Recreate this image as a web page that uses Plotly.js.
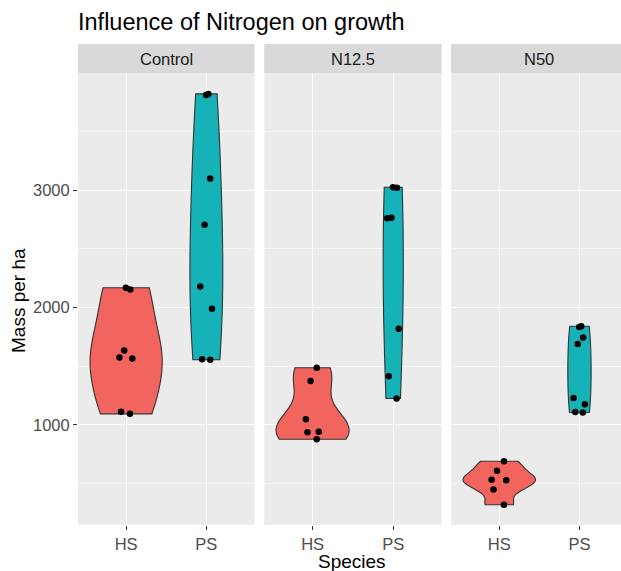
<!DOCTYPE html>
<html>
<head>
<meta charset="utf-8">
<script src="https://cdn.plot.ly/plotly-3.0.1.min.js"></script>
<style>
html,body{margin:0;padding:0;background:#fff;}
#chart{width:621px;height:571px;}
</style>
</head>
<body>
<div id="chart"></div>
<script>
// ---- data ----
var facets = ["Control", "N12.5", "N50"];
var species = ["HS", "PS"];

var controlHS = [2168, 2153, 1634, 1575, 1565, 1111, 1094];
var controlPS = [3820, 3810, 3100, 2705, 2180, 1990, 1560, 1555];
var n125HS = [1487, 1373, 1048, 942, 938, 878];
var n125PS = [3025, 3020, 2765, 2760, 1820, 1415, 1225];
var n50HS = [690, 610, 532, 528, 450, 320];
var n50PS = [1840, 1835, 1745, 1690, 1230, 1175, 1110, 1105];

var yTicks = [1000, 2000, 3000];

// ---- styling ----
var fillColors = {HS: "#F2645E", PS: "#15B2B8"};
var violinWidths = [[0.9, 0.41], [0.9, 0.25], [0.9, 0.29]];
var bwAdjust = [[1.15, 1.5], [1.0, 2.3], [1.0, 1.7]];
var jitters = [[0.22, 0.45], [0.22, 0.7], [0.25, 0.6]];

function bwNrd0(a) {
  var n = a.length;
  var s = a.slice().sort(function (p, q) { return p - q; });
  var mean = s.reduce(function (t, v) { return t + v; }, 0) / n;
  var sd = Math.sqrt(s.reduce(function (t, v) { return t + (v - mean) * (v - mean); }, 0) / (n - 1));
  function q(p) {
    var h = (n - 1) * p, lo = Math.floor(h), hi = Math.ceil(h);
    return s[lo] + (h - lo) * (s[hi] - s[lo]);
  }
  var iqr = q(0.75) - q(0.25);
  var lo = Math.min(sd, iqr / 1.34);
  if (!(lo > 0)) lo = sd || 1;
  return 0.9 * lo * Math.pow(n, -0.2);
}

var groups = [[controlHS, controlPS], [n125HS, n125PS], [n50HS, n50PS]];
var axisIds = ["x", "x2", "x3"];

var traces = [];
groups.forEach(function (g, fi) {
  g.forEach(function (vals, si) {
    var sp = species[si];
    traces.push({
      type: "violin",
      x: vals.map(function () { return sp; }),
      y: vals,
      xaxis: axisIds[fi],
      yaxis: "y",
      name: facets[fi] + " " + sp,
      showlegend: false,
      fillcolor: fillColors[sp],
      line: {color: "#333333", width: 1.1},
      opacity: 1,
      spanmode: "hard",
      scalemode: "width",
      width: violinWidths[fi][si],
      bandwidth: bwNrd0(vals) * bwAdjust[fi][si],
      points: "all",
      pointpos: 0,
      jitter: jitters[fi][si],
      marker: {color: "#000000", size: 6.5, line: {width: 0}},
      box: {visible: false},
      meanline: {visible: false},
      hoveron: "violins+points"
    });
  });
});

var W = 621, H = 571, L = 78, R = 0, T = 73, B = 46;
var pw = W - L - R, ph = H - T - B;
function px2fx(px) { return (px - L) / pw; }
function py2fy(py) { return (H - B - py) / ph; }

var domains = [
  [0, px2fx(254.5)],
  [px2fx(264.2), px2fx(441.6)],
  [px2fx(451.1), 1]
];
// third panel is cropped on the right in the reference
var pxPerUnit = (254.5 - L) / 2.2;
var x3Max = -0.6 + (W - 451.1) / pxPerUnit;
var ranges = [[-0.6, 1.6], [-0.6, 1.6], [-0.6, x3Max]];

var FONT = "Liberation Sans, Arial, sans-serif";
var tickFont = {family: FONT, size: 16.5, color: "#4D4D4D"};

var layout = {
  width: W, height: H,
  margin: {l: L, r: R, t: T, b: B, pad: 0},
  paper_bgcolor: "#FFFFFF",
  plot_bgcolor: "#EBEBEB",
  violinmode: "overlay",
  showlegend: false,
  font: {family: FONT, color: "#000"},
  title: {
    text: "Influence of Nitrogen on growth",
    font: {family: FONT, size: 23.5, color: "#000"},
    xref: "paper", x: 0, xanchor: "left",
    yref: "container", y: 1 - 22 / H, yanchor: "middle"
  },
  yaxis: {
    range: [147, 3998],
    tickvals: yTicks,
    ticktext: yTicks.map(String),
    showgrid: true, gridcolor: "#FFFFFF", gridwidth: 1.2,
    zeroline: false, showline: false,
    ticks: "outside", ticklen: 4, tickwidth: 1, tickcolor: "#333333",
    tickfont: tickFont,
    minor: {dtick: 500, tick0: 0, showgrid: true, gridcolor: "#FFFFFF", gridwidth: 0.6, ticks: ""},
    anchor: "x"
  },
  shapes: [],
  annotations: []
};

axisIds.forEach(function (id, i) {
  var key = i === 0 ? "xaxis" : "xaxis" + (i + 1);
  layout[key] = {
    domain: domains[i],
    anchor: "y",
    type: "category",
    categoryorder: "array",
    categoryarray: species,
    range: ranges[i],
    showgrid: true, gridcolor: "#FFFFFF", gridwidth: 1.2,
    zeroline: false, showline: false,
    ticks: "outside", ticklen: 4, tickwidth: 1, tickcolor: "#333333",
    tickfont: tickFont
  };
  layout.shapes.push({
    type: "rect", xref: "paper", yref: "paper",
    x0: domains[i][0], x1: domains[i][1],
    y0: 1, y1: py2fy(44),
    fillcolor: "#D9D9D9", line: {width: 0}, layer: "below"
  });
  layout.annotations.push({
    text: facets[i], xref: "paper", yref: "paper",
    x: (domains[i][0] + (i === 2 ? domains[i][0] + (2.2 * pxPerUnit) / pw : domains[i][1])) / 2,
    y: py2fy(58.5), xanchor: "center", yanchor: "middle", showarrow: false,
    font: {family: FONT, size: 16.5, color: "#1A1A1A"}
  });
});

layout.annotations.push({
  text: "Species", xref: "paper", yref: "paper",
  x: px2fx(352), y: py2fy(561), xanchor: "center", yanchor: "middle", showarrow: false,
  borderpad: 0,
  font: {family: FONT, size: 19, color: "#000"}
});
layout.annotations.push({
  text: "Mass per ha", xref: "paper", yref: "paper",
  x: px2fx(18), y: py2fy(301), xanchor: "center", yanchor: "middle", showarrow: false,
  textangle: -90,
  font: {family: FONT, size: 19, color: "#000"}
});

Plotly.newPlot("chart", traces, layout, {displayModeBar: false, staticPlot: true});
</script>
</body>
</html>
